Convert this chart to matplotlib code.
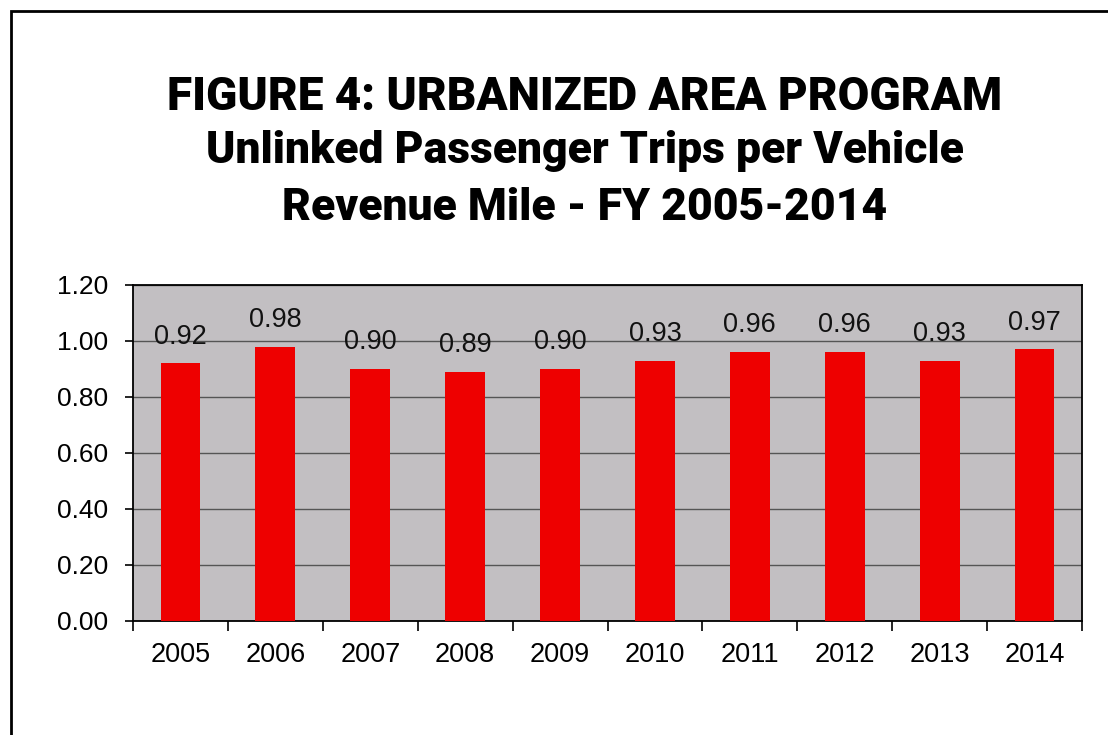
import matplotlib
matplotlib.use("Agg")
import matplotlib.pyplot as plt
from matplotlib.patches import Rectangle

years = ["2005", "2006", "2007", "2008", "2009", "2010", "2011", "2012", "2013", "2014"]
values = [0.92, 0.98, 0.90, 0.89, 0.90, 0.93, 0.96, 0.96, 0.93, 0.97]
labels = ["0.92", "0.98", "0.90", "0.89", "0.90", "0.93", "0.96", "0.96", "0.93", "0.97"]
yticks = [0.0, 0.2, 0.4, 0.6, 0.8, 1.0, 1.2]
title_lines = ["FIGURE 4: URBANIZED AREA PROGRAM",
               "Unlinked Passenger Trips per Vehicle",
               "Revenue Mile - FY 2005-2014"]

W, H = 1108, 735
fig = plt.figure(figsize=(W / 100, H / 100), dpi=100)
fig.patch.set_facecolor("white")

# outer border
fig.patches.append(Rectangle((11 / W, -0.1), 1.2, (H - 11) / H + 0.1,
                             transform=fig.transFigure, fill=False,
                             edgecolor="black", linewidth=2.0))

left, right, top, bottom = 133, 1082, 285, 621
ax = fig.add_axes([left / W, 1 - bottom / H, (right - left) / W, (bottom - top) / H])
ax.set_facecolor("#c2bfc2")

x = list(range(len(years)))
ax.bar(x, values, width=0.42, color="#ee0000", zorder=3)
for xi, v, lab in zip(x, values, labels):
    ax.annotate(lab, (xi, v), xytext=(0, 10), textcoords="offset points",
                ha="center", va="bottom", fontsize=19.5, family="Liberation Sans",
                color="#111111", zorder=4)

ax.set_xlim(-0.5, len(years) - 0.5)
ax.set_ylim(0, 1.2)
ax.set_yticks(yticks)
ax.set_yticklabels([f"{t:.2f}" for t in yticks], fontsize=19, family="Liberation Sans")
ax.yaxis.grid(True, color="#555555", linewidth=1.0, zorder=1)
ax.set_axisbelow(True)

ax.set_xticks(x)
ax.set_xticklabels(years, fontsize=19.5, family="Liberation Sans")
ax.tick_params(axis="x", length=0, pad=15)
ax.set_xticks([i - 0.5 for i in range(len(years) + 1)], minor=True)
ax.tick_params(axis="x", which="minor", length=7, width=1.2, color="black")
ax.tick_params(axis="y", length=6, width=1.2, pad=12)

for s in ax.spines.values():
    s.set_color("black")
    s.set_linewidth(1.3)

# title
ys = [97, 151, 208]
sizes = [33, 32, 32]
for line, yy, fs in zip(title_lines, ys, sizes):
    fig.text(0.528, 1 - yy / H, line, ha="center", va="center",
             fontsize=fs, fontweight="black", family="Roboto",
             color="black")

fig.savefig("out.png", dpi=100)
